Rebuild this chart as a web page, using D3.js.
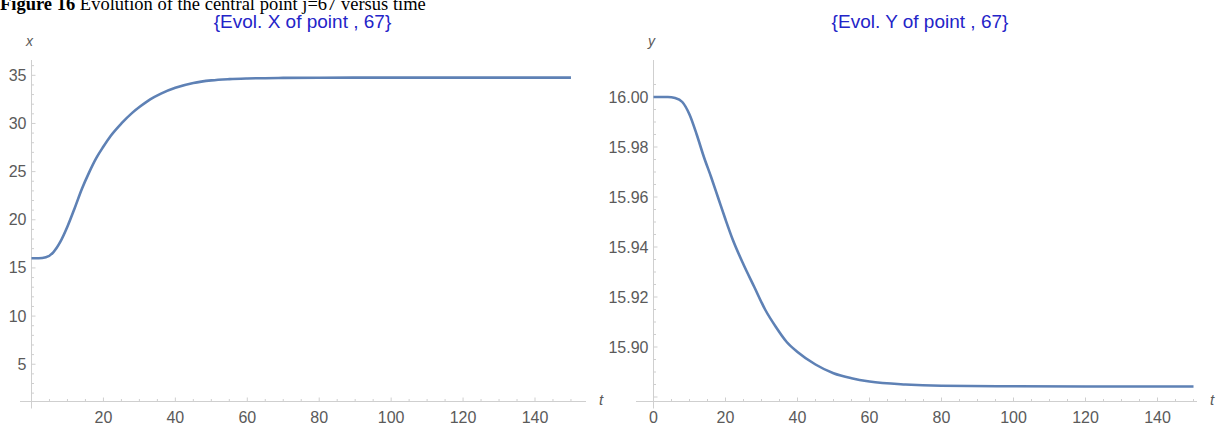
<!DOCTYPE html>
<html><head><meta charset="utf-8">
<script src="https://cdn.jsdelivr.net/npm/d3@7"></script>
<style>body{margin:0;background:#fff;} svg{display:block;}</style>
</head><body>
<svg id="c" width="1219" height="425"></svg>
<script>
// Data
const tX = [0, 2, 4, 6, 8, 10, 12, 14, 16, 18, 20, 22, 25, 28, 30, 33, 36, 40, 45, 50, 55, 60, 70, 80, 100, 120, 150];
const xVals = [16.0, 16.0, 16.1, 16.6, 17.7, 19.3, 21.2, 23.2, 24.9, 26.4, 27.6, 28.7, 30.0, 31.1, 31.7, 32.5, 33.1, 33.7, 34.2, 34.47, 34.6, 34.67, 34.73, 34.75, 34.76, 34.76, 34.76];
const tY = [0, 4, 6, 8, 10, 12, 14, 16, 18, 20, 22, 25, 28, 31, 34, 37, 40, 45, 50, 55, 60, 70, 80, 100, 120, 150];
const yVals = [16.0, 16.0, 15.9996, 15.998, 15.993, 15.985, 15.976, 15.968, 15.9595, 15.951, 15.943, 15.933, 15.924, 15.915, 15.908, 15.902, 15.898, 15.893, 15.8895, 15.8875, 15.8862, 15.885, 15.8845, 15.8843, 15.8842, 15.8842];
const xTicksT = [20, 40, 60, 80, 100, 120, 140];
const yTicksLeft = [5, 10, 15, 20, 25, 30, 35];
const tTicksRight = [0, 20, 40, 60, 80, 100, 120, 140];
const yTicksRight = [15.90, 15.92, 15.94, 15.96, 15.98, 16.00];
const titles = ["{Evol. X of point , 67}", "{Evol. Y of point , 67}"];

const svg = d3.select("#c");
const axisCol = "#cfcfcf", labCol = "#5a5a5a", lineCol = "#5E81B5";
const font = "Liberation Sans, Arial, sans-serif";

// header (clipped at top)
const hdr = svg.append("text").attr("x", 0).attr("y", 10)
  .attr("font-family", "Liberation Serif, Times New Roman, serif").attr("font-size", 18.5).attr("fill", "#000");
hdr.append("tspan").attr("font-weight", "bold").text("Figure 16");
hdr.append("tspan").text(" Evolution of the central point j=67 versus time");

function panel(cfg) {
  const g = svg.append("g");
  const x = d3.scaleLinear().domain([0, 140]).range([cfg.x0, cfg.x140]);
  const y = d3.scaleLinear().domain(cfg.yDom).range(cfg.yRange);
  const axisY = cfg.axisY;
  g.append("line").attr("x1", cfg.xAxisStart).attr("x2", cfg.xAxisEnd).attr("y1", axisY).attr("y2", axisY)
    .attr("stroke", axisCol).attr("stroke-width", 1);
  g.append("line").attr("x1", x(0)).attr("x2", x(0)).attr("y1", cfg.yAxisTop).attr("y2", axisY + 7)
    .attr("stroke", axisCol).attr("stroke-width", 1);
  const minorT = d3.range(5, 155, 5);
  g.selectAll(".mt").data(minorT).join("line")
    .attr("x1", d => x(d)).attr("x2", d => x(d))
    .attr("y1", axisY).attr("y2", d => axisY - (d % 20 === 0 ? 4 : 2.5))
    .attr("stroke", axisCol);
  g.selectAll(".xl").data(cfg.tTicks).join("text")
    .attr("x", d => x(d)).attr("y", axisY + 21).attr("text-anchor", "middle")
    .attr("font-family", font).attr("font-size", 16).attr("fill", labCol).text(d => d);
  g.selectAll(".ymt").data(cfg.yMinor).join("line")
    .attr("x1", x(0)).attr("x2", d => x(0) + (cfg.isMajor(d) ? 4 : 2.5))
    .attr("y1", d => y(d)).attr("y2", d => y(d)).attr("stroke", axisCol);
  g.selectAll(".yl").data(cfg.yTicks).join("text")
    .attr("x", x(0) - 5).attr("y", d => y(d) + 5.5).attr("text-anchor", "end")
    .attr("font-family", font).attr("font-size", 16).attr("fill", labCol).text(cfg.fmt);
  g.append("text").attr("x", x(0) - 2).attr("y", 45.5).attr("font-family", font).attr("font-style", "italic")
    .attr("font-size", 14).attr("fill", labCol).attr("text-anchor", "middle").text(cfg.yLab);
  g.append("text").attr("x", cfg.xAxisEnd + 13).attr("y", axisY + 3).attr("font-family", font).attr("font-style", "italic")
    .attr("font-size", 15).attr("fill", labCol).text("t");
  g.append("text").attr("x", cfg.titleX).attr("y", 28).attr("text-anchor", "middle")
    .attr("font-family", font).attr("font-size", 19).attr("fill", "#2424c8").text(cfg.title);
  const pts = cfg.ts.map((t, i) => [t, cfg.vs[i]]);
  g.append("path").datum(pts)
    .attr("d", d3.line().x(d => x(d[0])).y(d => y(d[1])).curve(d3.curveMonotoneX))
    .attr("fill", "none").attr("stroke", lineCol).attr("stroke-width", 2.6);
}

panel({
  x0: 31.5, x140: 535, yDom: [0, 35], yRange: [412.4, 75.3], axisY: 401.5,
  xAxisStart: 20, xAxisEnd: 586, yAxisTop: 60,
  tTicks: xTicksT, yTicks: yTicksLeft,
  yMinor: d3.range(2, 37, 1), isMajor: d => d % 5 === 0,
  fmt: d => d, yLab: "x", title: titles[0], titleX: 302.5,
  ts: tX, vs: xVals
});
panel({
  x0: 653.5, x140: 1157.5, yDom: [15.90, 16.00], yRange: [347, 97], axisY: 401.5,
  xAxisStart: 636, xAxisEnd: 1197, yAxisTop: 60,
  tTicks: tTicksRight, yTicks: yTicksRight,
  yMinor: d3.range(0, 26).map(i => 15.88 + i * 0.005),
  isMajor: d => Math.abs(Math.round(d * 50) - d * 50) < 1e-6,
  fmt: d => d.toFixed(2), yLab: "y", title: titles[1], titleX: 920,
  ts: tY, vs: yVals
});
</script>
</body></html>
